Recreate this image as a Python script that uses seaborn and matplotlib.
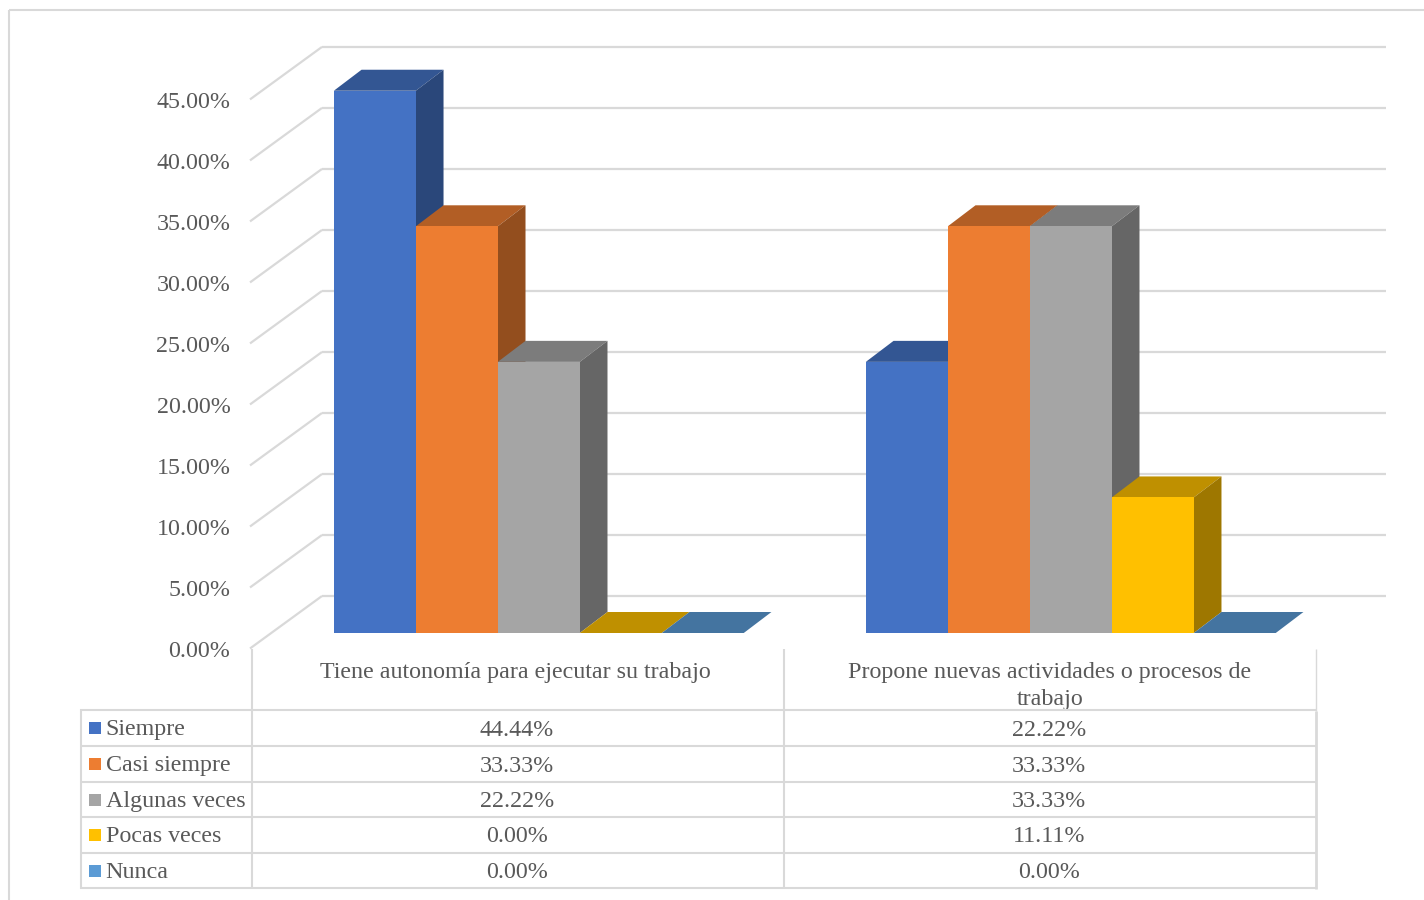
import matplotlib
matplotlib.use("Agg")
import matplotlib.pyplot as plt
from matplotlib.lines import Line2D
from matplotlib.patches import Polygon, Rectangle
from matplotlib.ticker import FuncFormatter
from matplotlib.transforms import Affine2D
import numpy as np
import pandas as pd
import seaborn as sns

categories = ["Tiene autonomía para ejecutar su trabajo",
              "Propone nuevas actividades o procesos de\ntrabajo"]
levels = ["Siempre", "Casi siempre", "Algunas veces", "Pocas veces", "Nunca"]
siempre = [44.44, 22.22]
casi_siempre = [33.33, 33.33]
algunas_veces = [22.22, 33.33]
pocas_veces = [0.00, 11.11]
nunca = [0.00, 0.00]
series = [siempre, casi_siempre, algunas_veces, pocas_veces, nunca]
colors = ["#4472C4", "#ED7D31", "#A5A5A5", "#FFC000", "#5B9BD5"]
y_ticks = [0, 5, 10, 15, 20, 25, 30, 35, 40, 45]

GRID = "#D9D9D9"
TEXT = "#595959"
FONT_SIZE = 17.3
W, H = 1424, 900

sns.set_theme(style="white")
plt.rcParams["font.family"] = ["Liberation Serif", "DejaVu Serif"]
plt.rcParams["font.size"] = FONT_SIZE

table = pd.DataFrame(
    [(cat, lev, vals[i]) for lev, vals in zip(levels, series) for i, cat in enumerate(categories)],
    columns=["categoria", "nivel", "valor"],
)

fig = plt.figure(figsize=(W / 100, H / 100), dpi=100, facecolor="white")
# Axes span the front plane of the pseudo-3D box; depth is added as pixel offsets.
left, right, y_zero, y_top = 252, 1316, 648.5, 99.4
ax = fig.add_axes([left / W, (H - y_zero) / H, (right - left) / W, (y_zero - y_top) / H])
ax.patch.set_alpha(0)

sns.barplot(data=table, x="categoria", y="valor", hue="nivel", order=categories, hue_order=levels,
            palette=colors, width=0.7705, gap=0, saturation=1, legend=False, errorbar=None, ax=ax)

ax.set_xlim(-0.5, 1.5)
ax.set_ylim(0, 45)
ax.set_xlabel("")
ax.set_ylabel("")
sns.despine(ax=ax, left=True, bottom=True)
ax.set_yticks(y_ticks)
ax.yaxis.set_major_formatter(FuncFormatter(lambda v, _: f"{v:.2f}%"))
ax.tick_params(axis="y", length=0, pad=15.5, labelsize=FONT_SIZE, labelcolor=TEXT)
ax.tick_params(axis="x", length=0, pad=9.5, labelsize=FONT_SIZE, labelcolor=TEXT)
for label, shift in zip(ax.get_xticklabels(), (-3, 0)):
    label.set_transform(label.get_transform() + Affine2D().translate(shift, 0))
    label.set_linespacing(1.42)
for label in ax.get_yticklabels():
    label.set_transform(label.get_transform() + Affine2D().translate(0, -0.6))

x_scale = (right - left) / 2.0
y_scale = (y_zero - y_top) / 45.0

# Back wall: gridlines plus the diagonals running along the left side wall.
wall_dx, wall_dy = 70.0, 52.5
wall = ax.transData + Affine2D().translate(wall_dx, wall_dy)
ax.hlines(y_ticks, -0.5, 1.5, colors=GRID, linewidth=1.6, transform=wall, clip_on=False, zorder=1)
for tick in y_ticks:
    ax.plot([-0.5 - 2 / x_scale, -0.5 + wall_dx / x_scale], [tick, tick + wall_dy / y_scale],
            color=GRID, linewidth=1.6, clip_on=False, zorder=1, solid_capstyle="butt")

# Column faces: front from the bar itself, top and right side from its geometry.
bar_plane = ax.transData + Affine2D().translate(20.8, 15.5)
depth_x, depth_y = 27.7 / x_scale, 21.0 / y_scale
TOP_SHADE, SIDE_SHADE = 0.75, 0.62
bars = sorted(ax.patches, key=lambda p: p.get_x())
for order, bar in enumerate(bars):
    x0, x1, h = bar.get_x(), bar.get_x() + bar.get_width(), bar.get_height()
    rgb = np.array(bar.get_facecolor()[:3])
    base_z = 3 + order
    top = Polygon([(x0, h), (x1, h), (x1 + depth_x, h + depth_y), (x0 + depth_x, h + depth_y)],
                  closed=True, facecolor=rgb * TOP_SHADE, edgecolor="none",
                  transform=bar_plane, clip_on=False, zorder=base_z)
    side = Polygon([(x1, 0), (x1, h), (x1 + depth_x, h + depth_y), (x1 + depth_x, depth_y)],
                   closed=True, facecolor=rgb * SIDE_SHADE, edgecolor="none",
                   transform=bar_plane, clip_on=False, zorder=base_z)
    ax.add_patch(top)
    ax.add_patch(side)
    bar.set_transform(bar_plane)
    bar.set_clip_on(False)
    bar.set_linewidth(0)
    bar.set_zorder(base_z + 0.5)

# Everything below the plot is laid out in image pixels, measured from the top-left.
px = Affine2D().scale(1, -1).translate(0, H)


def rule(xs, ys, lw=1.5):
    fig.add_artist(Line2D(xs, ys, color=GRID, linewidth=lw, transform=px, solid_capstyle="butt"))


# Outer chart frame.
rule([9, 9], [10, 900], 1.5)
rule([9, W], [10, 10], 1.5)

# Data table under the plot.
row_edges = [710, 746, 782, 817, 853, 888]
rule([left, left], [649, 889])
rule([784, 784], [649, 889])
rule([right, right], [649, 711], 1.0)
rule([right, right], [711, 889], 2.0)
rule([81, 81], [709, 889])
for y in row_edges:
    rule([80, right + 1], [y, y])

value_x = [517, 1049]
for row, (lev, vals, color) in enumerate(zip(levels, series, colors)):
    mid = (row_edges[row] + row_edges[row + 1]) / 2
    fig.add_artist(Rectangle((89, mid - 6), 12, 12, facecolor=color, edgecolor="none", transform=px))
    fig.text(105.5, mid + 7.5, lev, color=TEXT, fontsize=FONT_SIZE, ha="left", va="baseline", transform=px)
    for x, v in zip(value_x, vals):
        fig.text(x, mid + 7.5, f"{v:.2f}%", color=TEXT, fontsize=FONT_SIZE, ha="center", va="baseline", transform=px)

fig.savefig("out.png", dpi=100, facecolor="white")
